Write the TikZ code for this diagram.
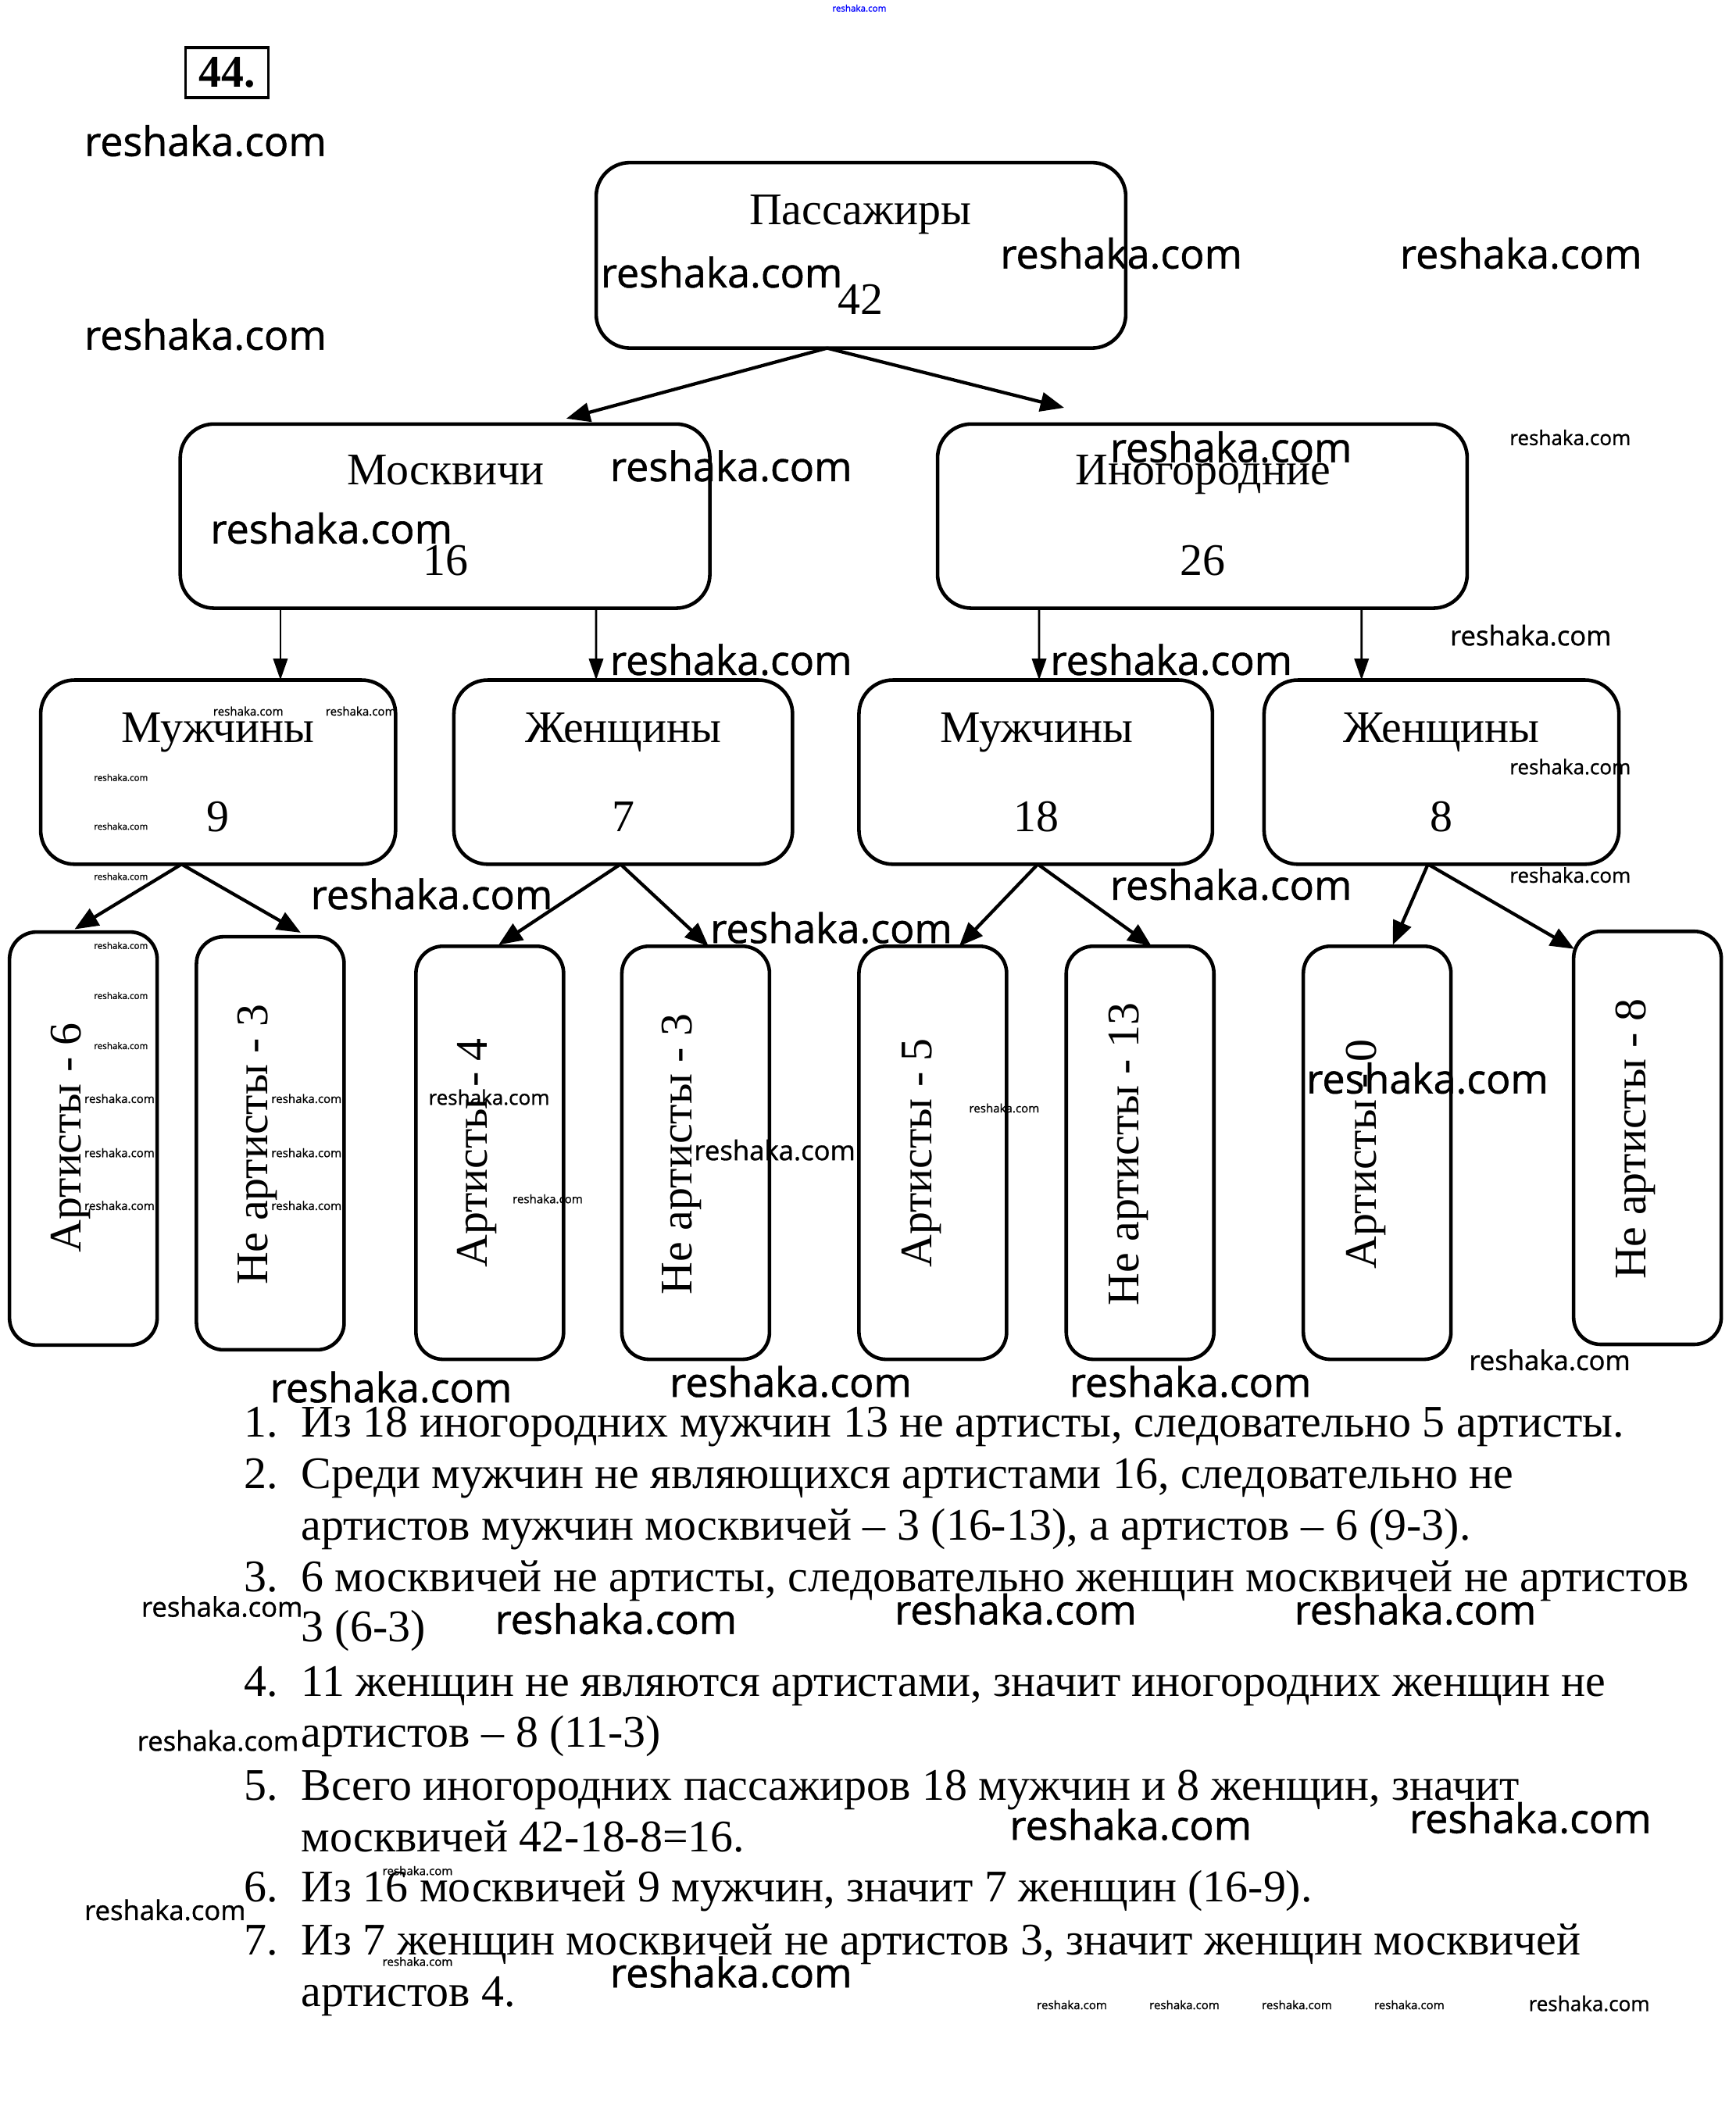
\documentclass[tikz,border=0pt]{standalone}
\usepackage{fontspec}
\setmainfont{Liberation Serif}
\newfontfamily\wmfont[FakeBold=1]{Open Sans}
\usetikzlibrary{arrows.meta,calc}
\begin{document}
\begin{tikzpicture}[x=0.02cm,y=-0.02cm,
  box/.style={draw,line width=1.5pt,rounded corners=0.5cm,inner sep=0,outer sep=0},
  leafbox/.style={draw,line width=1.5pt,rounded corners=0.4cm,minimum width=2.18cm,minimum height=6.1cm,inner sep=0,outer sep=0},
  lbl/.style={font=\fontsize{19}{21}\selectfont,inner sep=0,anchor=base},
  vlbl/.style={font=\fontsize{19}{21}\selectfont,inner sep=0,rotate=90},
  arr/.style={-{Triangle[length=10pt,width=8pt]},line width=1.4pt},
  varr/.style={-{Triangle[length=9pt,width=6pt]},line width=0.9pt},
  wmL/.style={font=\wmfont\fontsize{17.07}{17}\selectfont,inner sep=0,anchor=west},
  wmM/.style={font=\wmfont\fontsize{11.38}{11}\selectfont,inner sep=0,anchor=west},
  wmS/.style={font=\wmfont\fontsize{8.54}{8}\selectfont,inner sep=0,anchor=west},
  wmA/.style={font=\wmfont\fontsize{4.95}{5}\selectfont,inner sep=0,anchor=west},
  wmB/.style={font=\wmfont\fontsize{3.81}{4}\selectfont,inner sep=0,anchor=west},
  txt/.style={font=\fontsize{19}{21}\selectfont,anchor=base west,inner sep=0},
]
\useasboundingbox[fill=white] (0,0) rectangle (1281,1568);

% header
\node[wmB,text=blue] (wtop) at (614,6) {reshaka.com};
\node[draw,line width=1.2pt,minimum width=1.22cm,minimum height=0.74cm,inner sep=0,
      font=\bfseries\fontsize{19}{20}\selectfont] (num) at (167.5,53.5) {44.};

% level 0
\node[box,minimum width=7.82cm,minimum height=2.74cm] (pass) at (635.5,188.5) {};
\node[lbl] (passL) at (635,166) {Пассажиры};
\node[lbl] (passN) at (635,232) {42};

% level 1
\node[box,minimum width=7.82cm,minimum height=2.72cm] (mosk) at (328.5,381) {};
\node[lbl] (moskL) at (329,358) {Москвичи};
\node[lbl] (moskN) at (329,425) {16};
\node[box,minimum width=7.82cm,minimum height=2.72cm] (inog) at (887.5,381) {};
\node[lbl] (inogL) at (888,358) {Иногородние};
\node[lbl] (inogN) at (888,425) {26};

% level 2
\node[box,minimum width=5.24cm,minimum height=2.72cm] (m1) at (161,570) {};
\node[lbl] (m1L) at (161,548) {Мужчины};
\node[lbl] (m1N) at (161,614) {9};
\node[box,minimum width=5.0cm,minimum height=2.72cm] (w1) at (460,570) {};
\node[lbl] (w1L) at (460,548) {Женщины};
\node[lbl] (w1N) at (460,614) {7};
\node[box,minimum width=5.22cm,minimum height=2.72cm] (m2) at (764.5,570) {};
\node[lbl] (m2L) at (765,548) {Мужчины};
\node[lbl] (m2N) at (765,614) {18};
\node[box,minimum width=5.24cm,minimum height=2.72cm] (w2) at (1064,570) {};
\node[lbl] (w2L) at (1064,548) {Женщины};
\node[lbl] (w2N) at (1064,614) {8};

% level 3
\node[leafbox] (a6) at (61.5,840.5) {};
\node[vlbl] (a6L) at (52,840) {Артисты - 6};
\node[leafbox] (n3) at (199.5,844) {};
\node[vlbl] (n3L) at (190,845) {Не артисты - 3};
\node[leafbox] (a4) at (361.5,851) {};
\node[vlbl] (a4L) at (352,851) {Артисты - 4};
\node[leafbox] (n3b) at (513.5,851) {};
\node[vlbl] (n3bL) at (503,852) {Не артисты - 3};
\node[leafbox] (a5) at (688.5,851) {};
\node[vlbl] (a5L) at (680,851) {Артисты - 5};
\node[leafbox] (n13) at (841.5,851) {};
\node[vlbl] (n13L) at (833,852) {Не артисты - 13};
\node[leafbox] (a0) at (1016.5,851) {};
\node[vlbl] (a0L) at (1008,852) {Артисты - 0};
\node[leafbox] (n8) at (1216,840) {};
\node[vlbl] (n8L) at (1207,841) {Не артисты - 8};

% connectors
\draw[arr] ($(pass.south)+(-25,0)$) -- ($(mosk.north)+(89.5,-4)$);
\draw[arr] ($(pass.south)+(-25,0)$) -- ($(inog.north)+(-102,-12)$);
\draw[varr] ($(mosk.south)+(-121.5,0)$) -- ($(m1.north)+(46,0)$);
\draw[varr] ($(mosk.south)+(111.5,0)$) -- ($(w1.north)+(-20,0)$);
\draw[varr] ($(inog.south)+(-120.5,0)$) -- ($(m2.north)+(2.5,0)$);
\draw[varr] ($(inog.south)+(117.5,0)$) -- ($(w2.north)+(-59,0)$);
\draw[arr] ($(m1.south)+(-27,0)$) -- ($(a6.north)+(-6.5,-2)$);
\draw[arr] ($(m1.south)+(-27,0)$) -- ($(n3.north)+(22.5,-3)$);
\draw[arr] ($(w1.south)+(-2,0)$) -- ($(a4.north)+(6.5,-1)$);
\draw[arr] ($(w1.south)+(-2,0)$) -- ($(n3b.north)+(9.5,0)$);
\draw[arr] ($(m2.south)+(1.5,0)$) -- ($(a5.north)+(19.5,0)$);
\draw[arr] ($(m2.south)+(1.5,0)$) -- ($(n13.north)+(8.5,0)$);
\draw[arr] ($(w2.south)+(-10,0)$) -- ($(a0.north)+(11.5,-1)$);
\draw[arr] ($(w2.south)+(-10,0)$) -- ($(n8.north)+(-54,13)$);

% list
\node[txt] (i1n) at (180,1061) {1.};
\node[txt] (i1) at (222,1061) {Из 18 иногородних мужчин 13 не артисты, следовательно 5 артисты.};
\node[txt] (i2n) at (180,1099) {2.};
\node[txt] (i2) at (222,1099) {Среди мужчин не являющихся артистами 16, следовательно не};
\node[txt] (i2b) at (222,1137) {артистов мужчин москвичей – 3 (16-13), а артистов – 6 (9-3).};
\node[txt] (i3n) at (180,1175) {3.};
\node[txt] (i3) at (222,1175) {6 москвичей не артисты, следовательно женщин москвичей не артистов};
\node[txt] (i3b) at (222,1212) {3 (6-3)};
\node[txt] (i4n) at (180,1252) {4.};
\node[txt] (i4) at (222,1252) {11 женщин не являются артистами, значит иногородних женщин не};
\node[txt] (i4b) at (222,1290) {артистов – 8 (11-3)};
\node[txt] (i5n) at (180,1329) {5.};
\node[txt] (i5) at (222,1329) {Всего иногородних пассажиров 18 мужчин и 8 женщин, значит};
\node[txt] (i5b) at (222,1367) {москвичей 42-18-8=16.};
\node[txt] (i6n) at (180,1404) {6.};
\node[txt] (i6) at (222,1404) {Из 16 москвичей 9 мужчин, значит 7 женщин (16-9).};
\node[txt] (i7n) at (180,1443) {7.};
\node[txt] (i7) at (222,1443) {Из 7 женщин москвичей не артистов 3, значит женщин москвичей};
\node[txt] (i7b) at (222,1481) {артистов 4.};

% watermarks
\foreach \x/\y [count=\i] in {62/104,62/247,443/201,738/187,1033/187,450/344,819/330,155/390,450/487,775/487,229/660,819/653,524/685,964/796,199/1024,494/1020,789/1020,365/1195,660/1188,955/1188,745/1347,1040/1342,450/1456}
  \node[wmL] (wl\i) at (\x,\y) {reshaka.com};
\foreach \x/\y [count=\i] in {1070/469,1084/1004,104/1186,101/1285,62/1410,512/849}
  \node[wmM] (wm\i) at (\x,\y) {reshaka.com};
\foreach \x/\y [count=\i] in {1114/323,1114/566,1114/646,316/810,1128/1479}
  \node[wmS] (ws\i) at (\x,\y) {reshaka.com};
\foreach \x/\y [count=\i] in {157/525,240/525,62/811,62/851,62/890,200/811,200/851,200/890,378/885,715/818,282/1381,282/1448,765/1480,848/1480,931/1480,1014/1480}
  \node[wmA] (wa\i) at (\x,\y) {reshaka.com};
\foreach \x/\y [count=\i] in {69/574,69/610,69/647,69/698,69/735,69/772}
  \node[wmB] (wb\i) at (\x,\y) {reshaka.com};
\end{tikzpicture}
\end{document}
